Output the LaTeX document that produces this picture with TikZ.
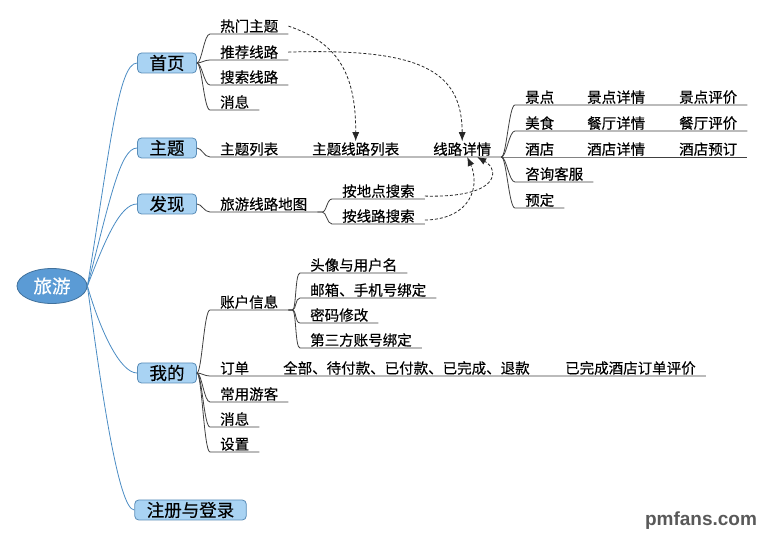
\documentclass[tikz,border=0pt]{standalone}
\usepackage{fontspec}
\setmainfont{Noto Sans CJK SC}[FakeBold=0.3]
\newfontfamily\wmfont{Liberation Sans}
\usetikzlibrary{arrows.meta,shapes.geometric}
\definecolor{rootfill}{HTML}{5B9BD5}
\definecolor{rootdraw}{HTML}{41719C}
\definecolor{boxfill}{HTML}{A9D3F3}
\definecolor{boxdraw}{HTML}{5A8DB8}
\definecolor{rootline}{HTML}{4A8CC4}
\definecolor{leafline}{HTML}{404040}
\begin{document}
\begin{tikzpicture}[x=1pt,y=-1pt,
 rootnode/.style={ellipse, fill=rootfill, draw=rootdraw, line width=0.8pt, minimum width=70pt, minimum height=35pt, inner sep=0pt, text=white, font=\fontsize{18.5}{20}\selectfont},
 topic/.style={rectangle, rounded corners=4pt, fill=boxfill, draw=boxdraw, line width=0.8pt, minimum height=20pt, inner xsep=12pt, inner ysep=0pt, font=\fontsize{17.5}{19}\selectfont},
 leaf/.style={inner xsep=10pt, inner ysep=1pt, anchor=south west, font=\fontsize{14.5}{16}\selectfont, text=black},
 rl/.style={draw=rootline, line width=0.8pt},
 ll/.style={draw=leafline, line width=0.8pt},
 dl/.style={draw=black!85, line width=0.8pt, dash pattern=on 3pt off 2pt, -{Latex[length=9pt,width=7pt]}},
]
\useasboundingbox[fill=white] (0,0) rectangle (764,537);

% root and topics
\node[rootnode] (root) at (52,286) {旅游};
\node[topic] (sy) at (167,63) {首页};
\node[topic] (zt) at (167,148) {主题};
\node[topic] (fx) at (167,204) {发现};
\node[topic] (wd) at (167,373) {我的};
\node[topic] (zc) at (190.5,510) {注册与登录};

\draw[rl] (root.east) .. controls (110,150) and (118,63) .. (sy.west);
\draw[rl] (root.east) .. controls (110,200) and (120,148) .. (zt.west);
\draw[rl] (root.east) .. controls (105,240) and (120,204) .. (fx.west);
\draw[rl] (root.east) .. controls (100,330) and (120,373) .. (wd.west);
\draw[rl] (root.east) .. controls (100,380) and (118,510) .. (zc.west);

% 首页
\node[leaf] (rm) at (210,34) {热门主题};
\node[leaf] (tj) at (210,60) {推荐线路};
\node[leaf] (ss) at (210,85) {搜索线路};
\node[leaf] (xx1) at (210,110) {消息};
\foreach \n in {rm,tj,ss,xx1}
  \draw[ll] (sy.east) .. controls +(5,0) and +(-6,0) .. (\n.south west) -- (\n.south east);

% 主题
\node[leaf] (ztlb) at (210,157) {主题列表};
\node[leaf] (ztxl) at (302,157) {主题线路列表};
\node[leaf] (xlxq) at (423,157) {线路详情};
\draw[ll] (zt.east) .. controls +(5,0) and +(-6,0) .. (ztlb.south west) -- (xlxq.south east);

\node[leaf] (jd) at (515,105) {景点};
\node[leaf] (jdxq) at (577,105) {景点详情};
\node[leaf] (jdpj) at (669,105) {景点评价};
\node[leaf] (ms) at (515,131) {美食};
\node[leaf] (ctxq) at (577,131) {餐厅详情};
\node[leaf] (ctpj) at (669,131) {餐厅评价};
\node[leaf] (jdian) at (515,157) {酒店};
\node[leaf] (jdxq2) at (577,157) {酒店详情};
\node[leaf] (jdyd) at (669,157) {酒店预订};
\node[leaf] (zx) at (515,182) {咨询客服};
\node[leaf] (yd) at (515,208) {预定};
\foreach \a/\b in {jd/jdpj, ms/ctpj, jdian/jdyd, zx/zx, yd/yd}
  \draw[ll] (xlxq.south east) .. controls +(5,0) and +(-6,0) .. (\a.south west) -- (\b.south east);

% 发现
\node[leaf] (lxdt) at (210,212) {旅游线路地图};
\draw[ll] (fx.east) .. controls +(5,0) and +(-6,0) .. (lxdt.south west) -- (lxdt.south east);
\node[leaf] (adds) at (332,199) {按地点搜索};
\node[leaf] (axls) at (332,224) {按线路搜索};
\foreach \n in {adds,axls}
  \draw[ll] (lxdt.south east) -- ++(5,0) .. controls +(4,0) and +(-5,0) .. (\n.south west) -- (\n.south east);

% 我的
\node[leaf] (zhxx) at (210,310) {账户信息};
\node[leaf] (dd) at (210,376) {订单};
\node[leaf] (qb) at (273,376) {全部、待付款、已付款、已完成、退款};
\node[leaf] (wcpj) at (555,376) {已完成酒店订单评价};
\node[leaf] (cyyk) at (210,402) {常用游客};
\node[leaf] (xx2) at (210,427) {消息};
\node[leaf] (sz) at (210,452) {设置};
\draw[ll] (wd.east) .. controls +(5,0) and +(-6,0) .. (zhxx.south west) -- (zhxx.south east);
\draw[ll] (wd.east) .. controls +(5,0) and +(-6,0) .. (dd.south west) -- (wcpj.south east);
\foreach \n in {cyyk,xx2,sz}
  \draw[ll] (wd.east) .. controls +(5,0) and +(-6,0) .. (\n.south west) -- (\n.south east);

\node[leaf] (tx) at (300,273) {头像与用户名};
\node[leaf] (yx) at (300,298) {邮箱、手机号绑定};
\node[leaf] (mm) at (300,323) {密码修改};
\node[leaf] (dsf) at (300,348) {第三方账号绑定};
\foreach \n in {tx,yx,mm,dsf}
  \draw[ll] (zhxx.south east) -- ++(4,0) .. controls +(4,0) and +(-5,0) .. (\n.south west) -- (\n.south east);

% dashed links
\draw[dl] (rm.east) .. controls (335,42) and (356,70) .. (ztxl.north);
\draw[dl] (tj.east) .. controls (420,48) and (462,70) .. (xlxq.north);
\draw[dl] ([yshift=-5pt]adds.east) .. controls (500,198) and (500,170) .. ([xshift=15pt]xlxq.south);
\draw[dl] ([yshift=-4pt]axls.east) .. controls (472,219) and (480,185) .. ([xshift=5pt]xlxq.south);

% watermark
\node[font=\wmfont\bfseries\fontsize{19}{20}\selectfont, text=black!65, inner sep=0pt] (wm) at (701,521) {pmfans.com};
\end{tikzpicture}
\end{document}
